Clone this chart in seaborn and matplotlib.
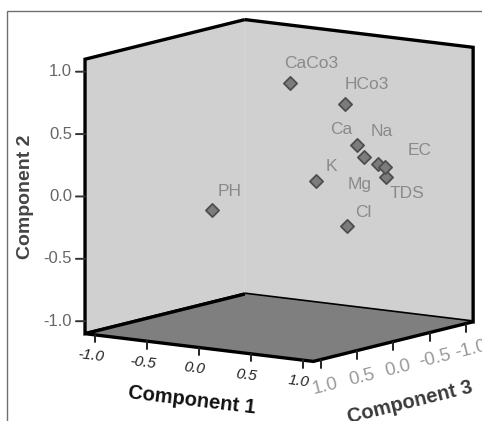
import numpy as np
import matplotlib
matplotlib.use("Agg")
import matplotlib.pyplot as plt
import matplotlib.transforms as mtransforms
from matplotlib.patches import Rectangle
import seaborn as sns

# component loadings
variables = ["CaCo3", "HCo3", "Ca", "Mg", "Na", "EC", "TDS", "K", "Cl", "PH"]
comp1 = [0.11, 0.43, 0.54, 0.68, 0.74, 0.88, 0.89, 0.57, 0.30, -0.16]
comp2 = [0.87, 0.69, 0.38, 0.31, 0.24, 0.25, 0.17, 0.18, -0.33, -0.07]
comp3 = [0.00, -0.30, -0.30, -0.20, -0.30, -0.20, -0.20, 0.30, -0.50, 0.70]
ticks = [-1.0, -0.5, 0.0, 0.5, 1.0]
tick_labels = ["-1.0", "-0.5", "0.0", "0.5", "1.0"]

# label offsets from the marker, in points (x right, y up)
label_offsets = {
    "CaCo3": (15, 14), "HCo3": (15, 14), "Ca": (-11, 11), "Mg": (-3, -20),
    "Na": (3, 24), "EC": (25, 12), "TDS": (15, -12), "K": (11, 10),
    "Cl": (12, 10), "PH": (13, 13),
}

sns.set_style("white")
plt.rcParams["font.family"] = ["Liberation Sans", "DejaVu Sans"]

wall = "#d0d0d0"
floor = "#7f7f7f"
text_grey = "#8a8a8a"
lo, hi = -1.1, 1.1

fig = plt.figure(figsize=(4.82, 4.21), dpi=100)
fig.patches.append(Rectangle((7 / 482, -0.1), 1.2, 1 - 11 / 421 + 0.1, transform=fig.transFigure,
                             fill=False, edgecolor="#707070", linewidth=1.0))

ax = fig.add_axes([0.0672, 0.034, 1.0, 1.0], projection="3d", proj_type="ortho")
ax.set_facecolor("none")
ax.view_init(elev=10, azim=35)
ax.set_box_aspect((1, 1, 1), zoom=1.113)
ax.set_xlim(lo, hi)
ax.set_ylim(lo, hi)
ax.set_zlim(lo, hi)


def shifted(dx, dy):
    return mtransforms.offset_copy(ax.transData, fig=fig, x=dx, y=dy, units="points")


# x = Component 3, y = Component 1, z = Component 2
ax.scatter(comp3, comp1, comp2, marker="D", s=45, c="#7c7c7c", edgecolors="#4e4e4e",
           linewidths=1.3, depthshade=False)

for name, c1, c2, c3 in zip(variables, comp1, comp2, comp3):
    dx, dy = label_offsets[name]
    ax.text(c3, c1, c2, name, transform=shifted(dx, dy), ha="center", va="center",
            fontsize=12.5, color=text_grey)

# box: back walls light, floor dark, thick black edges
ax.xaxis.set_pane_color(wall)
ax.yaxis.set_pane_color(wall)
ax.zaxis.set_pane_color(floor)
for axis in (ax.xaxis, ax.yaxis, ax.zaxis):
    axis.pane.set_edgecolor("black")
    axis.pane.set_linewidth(2.4)
    axis.line.set_linewidth(0)
    axis.set_ticks([])
ax.grid(False)

# ticks and tick labels drawn along the front edges
for t, lab in zip(ticks, tick_labels):
    # Component 2 on the left vertical edge
    ax.plot([hi, hi + 0.042], [lo, lo - 0.058], [t, t], color="#333333", lw=1.4)
    ax.text(hi, lo, t, lab, transform=shifted(-9.4, 0), ha="right", va="center",
            fontsize=12, color="#666666")
    # Component 1 along the front-left floor edge
    ax.plot([hi, hi], [t, t], [lo, lo - 0.06], color="#222222", lw=1.4)
    ax.text(hi, t, lo, lab, "y", transform=shifted(-3.1, -15.1), ha="center", va="center",
            fontsize=11, color="#222222", style="italic")
    # Component 3 along the front-right floor edge
    ax.plot([t, t], [hi, hi], [lo, lo - 0.07], color="#222222", lw=1.4)
    ax.text(t, hi, lo, lab, (-1, 0, 0), transform=shifted(3.6, -19), ha="center", va="center",
            fontsize=13.5, color="#9a9a9a")

ax.text(hi, lo, 0, "Component 2", "z", transform=shifted(-43.2, 0), ha="center", va="center",
        fontsize=14, fontweight="bold", color="#444444")
ax.text(hi, 0, lo, "Component 1", "y", transform=shifted(-5, -37.8), ha="center", va="center",
        fontsize=14.5, fontweight="bold", color="#111111")
ax.text(0, hi, lo, "Component 3", (-1, 0, 0), transform=shifted(12.2, -43.6), ha="center",
        va="center", fontsize=14.5, fontweight="bold", color="#3a3a3a")

fig.savefig("out.png", dpi=100)
